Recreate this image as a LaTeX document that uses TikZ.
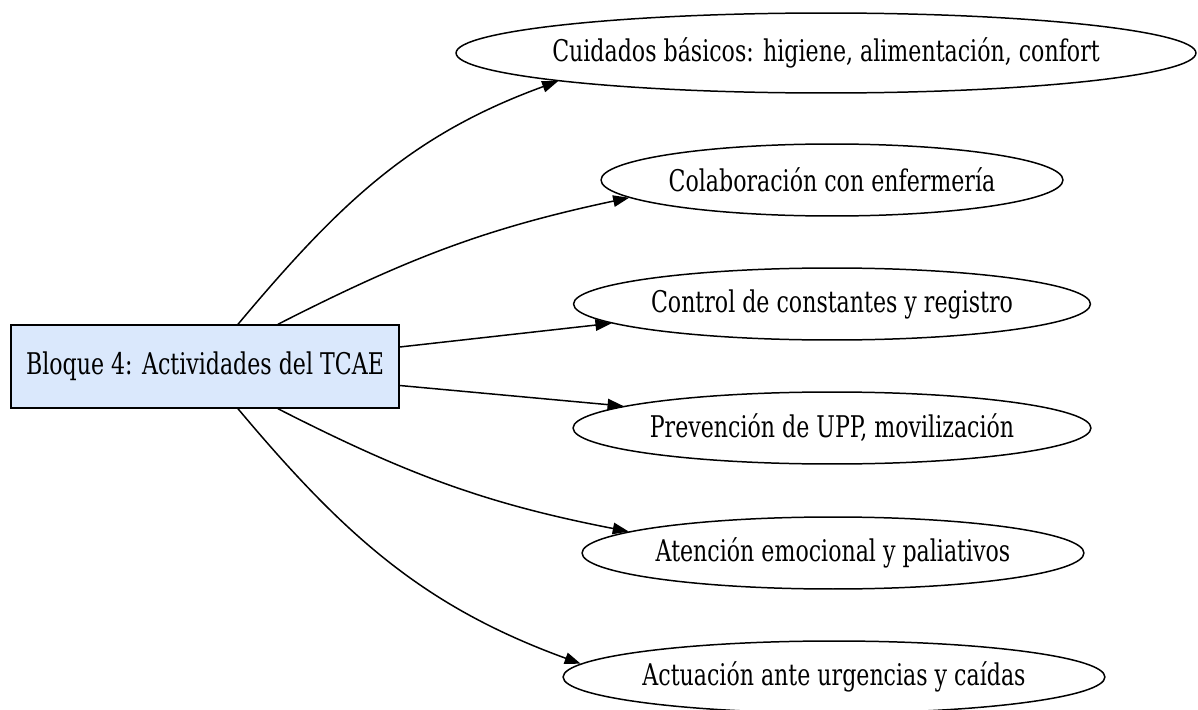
\documentclass[tikz,border=0pt]{standalone}
\usepackage{fontspec}
\setmainfont{DejaVu Serif}[FakeStretch=0.74]
\usepackage{tikz}
\usetikzlibrary{arrows.meta,positioning,shapes.geometric}
\definecolor{blockfill}{HTML}{DAE8FC}

\begin{document}
\begin{tikzpicture}[
    x=0.02cm, y=0.02cm,
    block/.style={draw=black, fill=blockfill, line width=0.85pt, minimum width=7.76cm, minimum height=1.66cm, inner sep=0pt, font=\fontsize{17}{20}\selectfont},
    topic/.style={draw=black, ellipse, line width=0.85pt, inner sep=0pt, minimum height=1.44cm, font=\fontsize{17}{20}\selectfont},
    arrow/.style={-{Triangle[length=0.32cm, width=0.23cm]}, line width=0.85pt, black}
]
\useasboundingbox (0,0) rectangle (1198,-710);

% Main block
\node[block] (blk) at (205,-366.5) {Bloque 4: Actividades del TCAE};

% Topics
\node[topic, minimum width=14.8cm, minimum height=1.6cm, inner xsep=-0.3cm] (e1) at (826,-53) {Cuidados básicos: higiene, alimentación, confort};
\node[topic, minimum width=9.24cm] (e2) at (832,-180) {Colaboración con enfermería};
\node[topic, minimum width=10.34cm] (e3) at (832,-304) {Control de constantes y registro};
\node[topic, minimum width=10.36cm] (e4) at (832,-428) {Prevención de UPP, movilización};
\node[topic, minimum width=10.04cm] (e5) at (833,-553) {Atención emocional y paliativos};
\node[topic, minimum width=10.76cm] (e6) at (834,-677) {Actuación ante urgencias y caídas};

% Connecting arrows
\draw[arrow] ([xshift=0.66cm]blk.north) to[out=50, in=200] (e1.186);
\draw[arrow] ([xshift=1.46cm]blk.north) to[out=27, in=192] (e2.185.5);
\draw[arrow] ([yshift=0.39cm]blk.east) -- (e3.185);
\draw[arrow] ([yshift=-0.38cm]blk.east) -- (e4.174);
\draw[arrow] ([xshift=1.46cm]blk.south) to[out=-27, in=169] (e5.174);
\draw[arrow] ([xshift=0.66cm]blk.south) to[out=-50, in=160] (e6.177);

\end{tikzpicture}
\end{document}
